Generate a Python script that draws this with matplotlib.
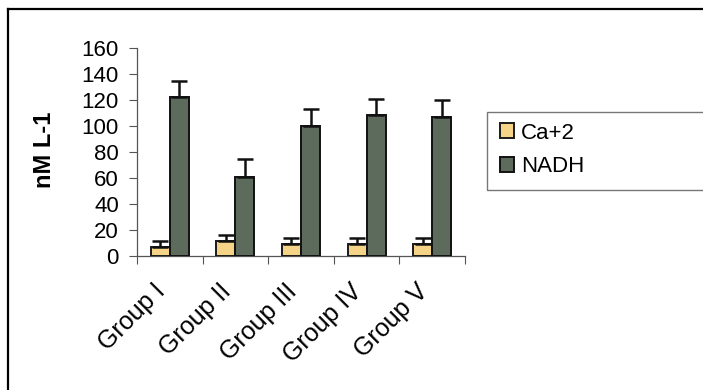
import matplotlib
matplotlib.use("Agg")
import matplotlib.pyplot as plt
import matplotlib.transforms as mtransforms
import numpy as np
from matplotlib.lines import Line2D
from matplotlib.patches import Rectangle

categories = ["Group I", "Group II", "Group III", "Group IV", "Group V"]
ca_values = [7, 11.5, 9, 9, 9.5]
ca_err = [4.5, 5, 4.5, 4.5, 4.5]
nadh_values = [122, 61, 100, 108.5, 107]
nadh_err = [13, 13.5, 13, 12.5, 13]
yticks = [0, 20, 40, 60, 80, 100, 120, 140, 160]

W, H = 703, 390
fig = plt.figure(figsize=(W / 100, H / 100), dpi=100)
fig.patch.set_facecolor("white")
plt.rcParams["font.family"] = ["Liberation Sans", "DejaVu Sans"]

# axes position in pixels
x0, x1 = 137, 465
y0, y1 = 256, 48
ax = fig.add_axes([x0 / W, 1 - y0 / H, (x1 - x0) / W, (y0 - y1) / H])

ca_color = "#f6d487"
nadh_color = "#5c6b5c"
x = np.arange(len(categories))
bw = 0.29
ekw = dict(ecolor="#111111", elinewidth=1.8, capsize=5.5, capthick=1.8)
ax.bar(x - bw / 2, ca_values, bw, color=ca_color, edgecolor="#1a1a1a", linewidth=1.4,
       yerr=[np.zeros(len(ca_err)), ca_err], error_kw=ekw, label="Ca+2", zorder=3)
ax.bar(x + bw / 2, nadh_values, bw, color=nadh_color, edgecolor="#111111", linewidth=1.4,
       yerr=[np.zeros(len(nadh_err)), nadh_err], error_kw=ekw, label="NADH", zorder=3)

ax.set_xlim(-0.5, len(categories) - 0.5)
ax.set_ylim(0, 160)
ax.set_yticks(yticks)
ax.set_yticklabels([str(v) for v in yticks], fontsize=16)
ax.tick_params(axis="y", direction="out", length=6, width=0.8, color="#555555", pad=7)

ax.set_xticks(x)
ax.set_xticklabels(categories, rotation=45, ha="right", va="center", rotation_mode="anchor", fontsize=18)
ax.tick_params(axis="x", which="major", length=0, pad=23)
offset = mtransforms.ScaledTranslation(-8 / 100, 0, fig.dpi_scale_trans)
for lbl in ax.get_xticklabels():
    lbl.set_transform(lbl.get_transform() + offset)
ax.set_xticks(np.arange(-0.5, len(categories)), minor=True)
ax.tick_params(axis="x", which="minor", direction="out", length=6, width=0.8, color="#555555")

for s in ["top", "right"]:
    ax.spines[s].set_visible(False)
for s in ["left", "bottom"]:
    ax.spines[s].set_color("#555555")
    ax.spines[s].set_linewidth(0.9)

ax.set_ylabel("nM L-1", fontsize=17, fontweight="bold")
ax.yaxis.set_label_coords((56 - x0) / (x1 - x0), (y0 - 150) / (y0 - y1))

# legend (frame extends beyond the right edge as in the reference)
fig.add_artist(Rectangle((487 / W, 1 - 190 / H), 240 / W, 78 / H, transform=fig.transFigure,
                         facecolor="white", edgecolor="#777777", linewidth=1.0, zorder=1))
leg = fig.legend(handles=[ax.patches[0], ax.patches[len(categories)]],
                 labels=["Ca+2", "NADH"], loc="upper left",
                 bbox_to_anchor=(493 / W, 1 - 116 / H), frameon=False, fontsize=16,
                 handlelength=0.65, handleheight=0.65, handletextpad=0.3, borderpad=0.3,
                 labelspacing=0.55, borderaxespad=0)
leg.set_zorder(2)

# outer frame lines (top and left)
fig.add_artist(Line2D([8 / W, 1], [1 - 9 / H, 1 - 9 / H], transform=fig.transFigure, color="black", lw=1.6))
fig.add_artist(Line2D([8 / W, 8 / W], [0, 1 - 9 / H], transform=fig.transFigure, color="black", lw=1.6))

fig.savefig("out.png", dpi=100, facecolor="white")
